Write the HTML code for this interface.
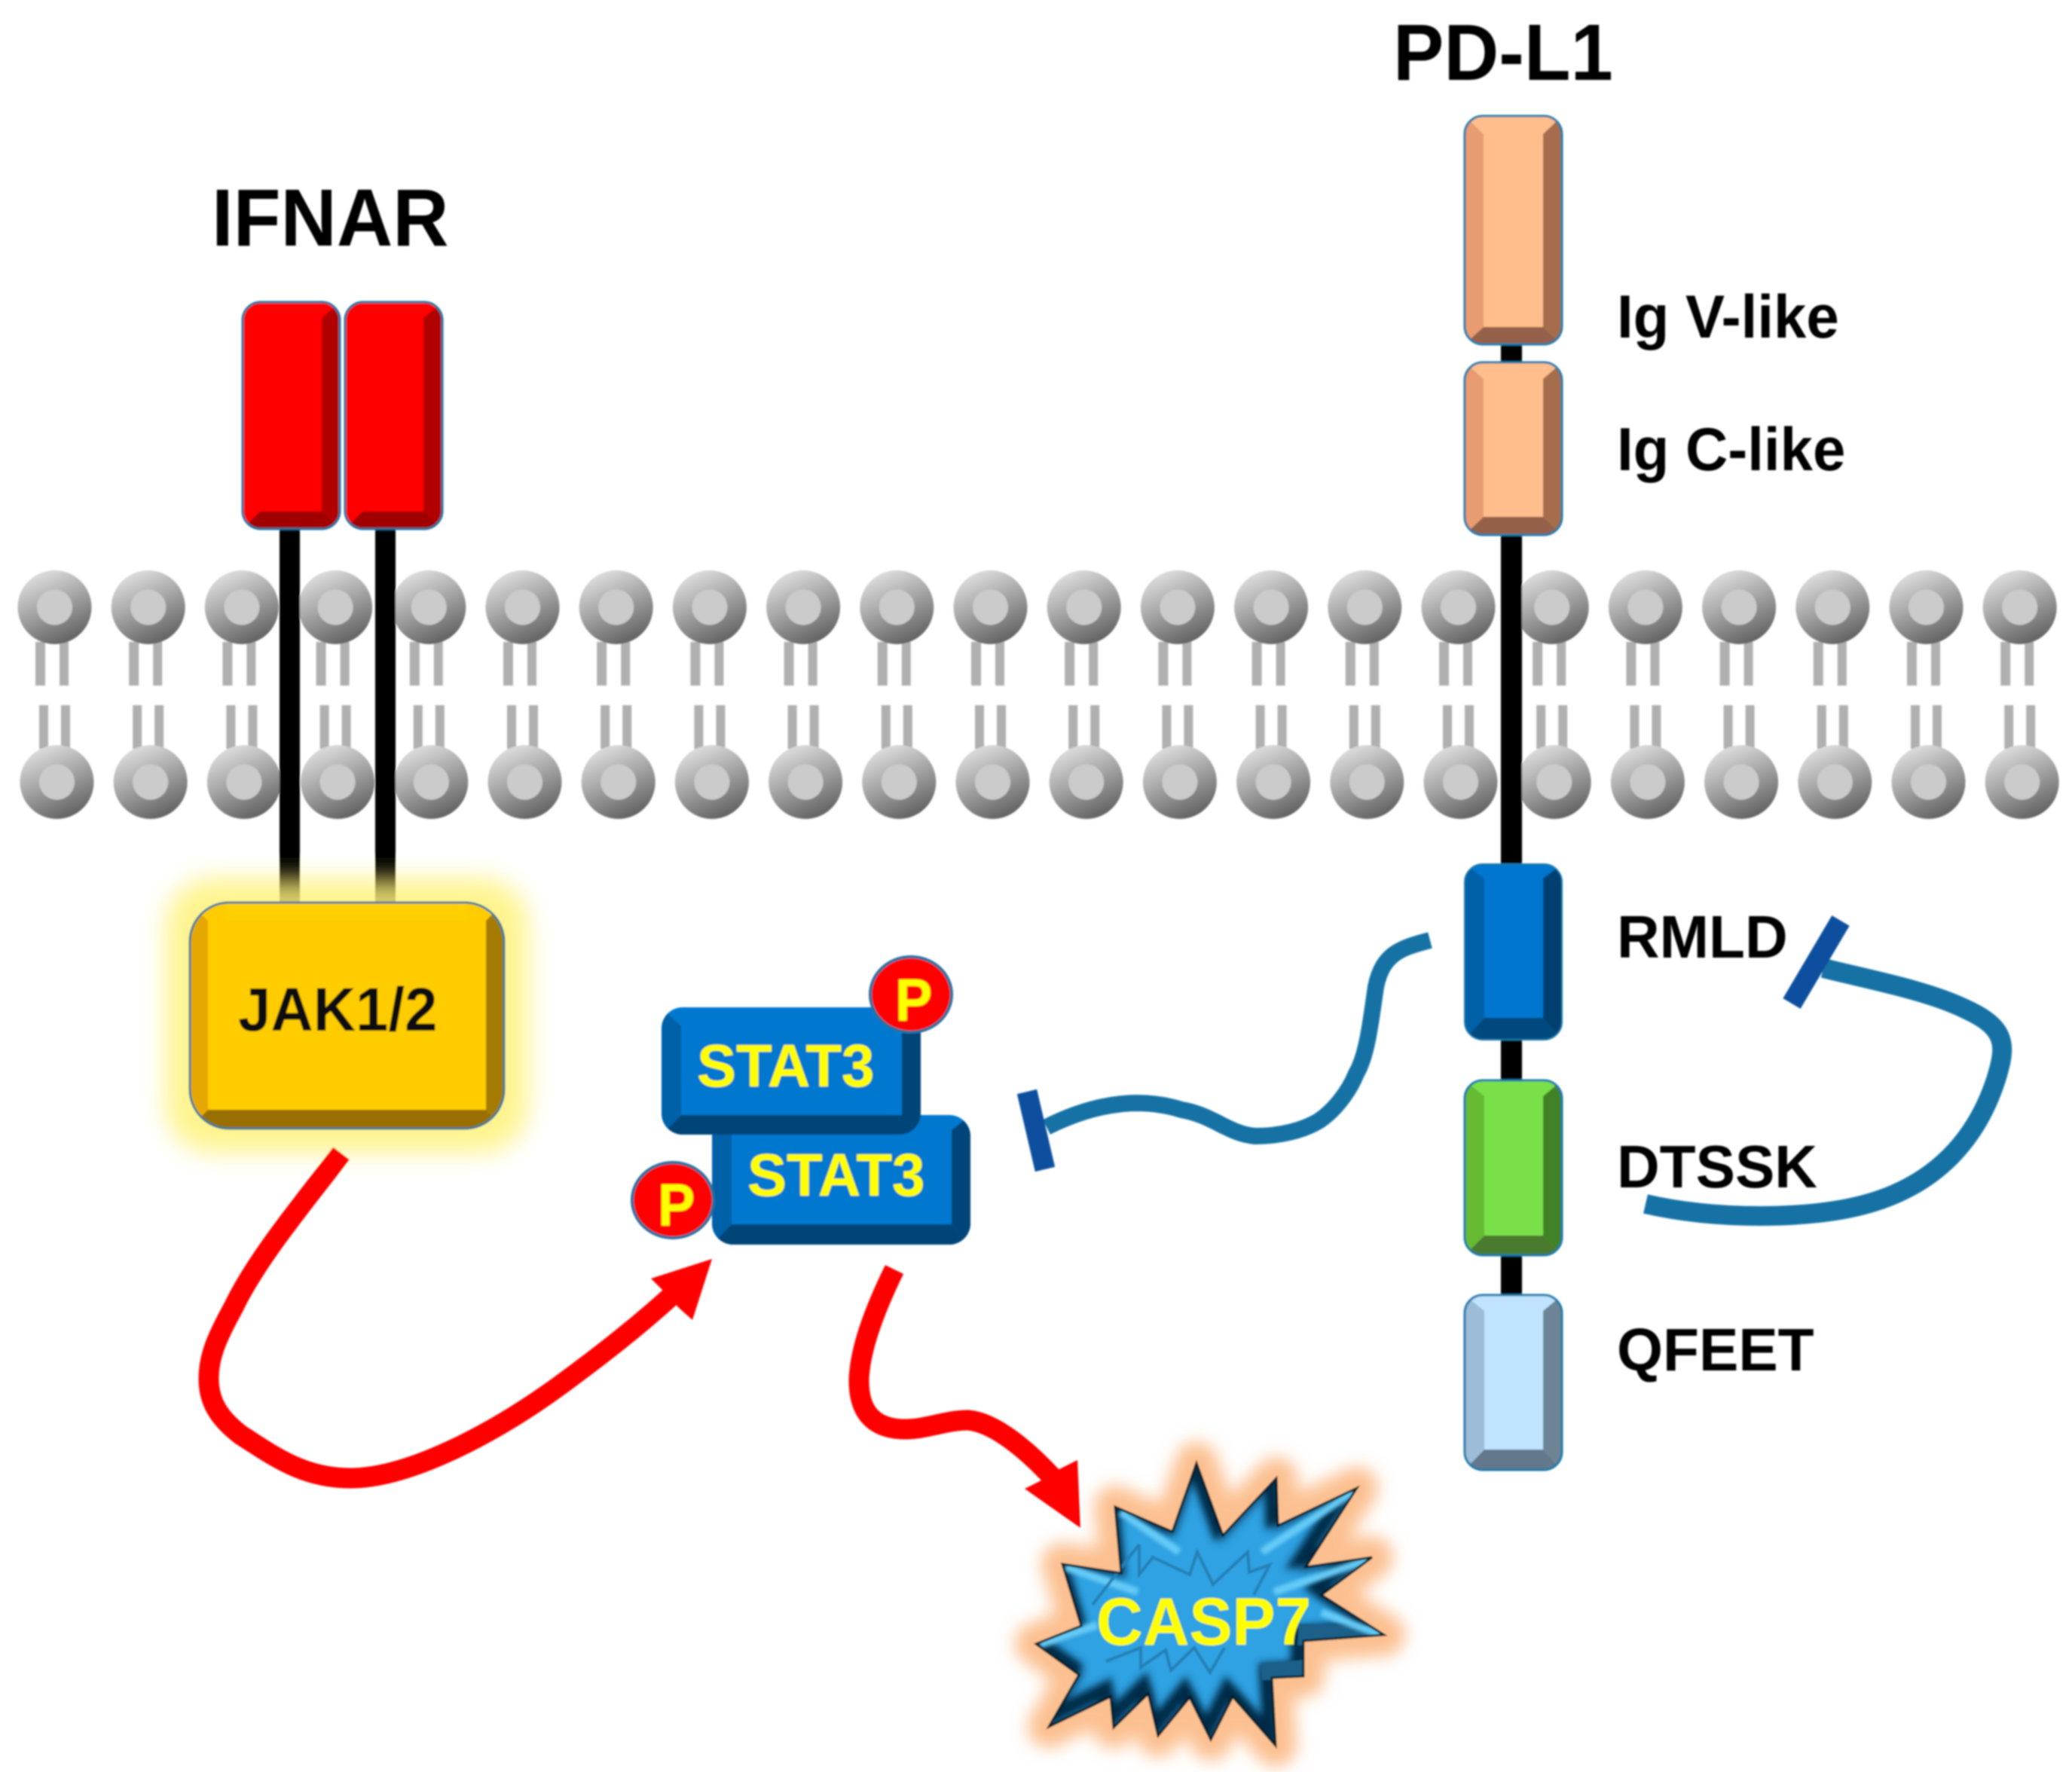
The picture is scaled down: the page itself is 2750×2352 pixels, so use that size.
<!DOCTYPE html>
<html><head><meta charset="utf-8"><style>html,body{margin:0;padding:0;background:#fff}svg{display:block}text{font-family:"Liberation Sans",Arial,sans-serif;font-weight:bold}</style></head><body>
<svg xmlns="http://www.w3.org/2000/svg" width="2750" height="2352" viewBox="0 0 2750 2352">
<defs>
<linearGradient id="hg" x1="0.25" y1="0" x2="0.7" y2="1"><stop offset="0" stop-color="#e2e2e2"/><stop offset="0.45" stop-color="#a8a8a8"/><stop offset="1" stop-color="#5e5e5e"/></linearGradient>
<g id="lt"><rect x="-25.5" y="46" width="13" height="58" fill="#b0b0b0"/><rect x="6.5" y="46" width="12" height="58" fill="#b0b0b0"/><circle r="49" fill="url(#hg)"/><circle r="23.5" fill="#cbcbcb"/></g>
<g id="lb"><rect x="-23.5" y="-102" width="12" height="58" fill="#b0b0b0"/><rect x="5.5" y="-102" width="12" height="58" fill="#b0b0b0"/><circle r="49" fill="url(#hg)"/><circle r="23.5" fill="#cbcbcb"/></g>
<filter id="soft" filterUnits="userSpaceOnUse" x="0" y="0" width="2750" height="2352"><feGaussianBlur stdDeviation="1"/></filter>
<filter id="b12" x="-30%" y="-30%" width="160%" height="160%"><feGaussianBlur stdDeviation="16"/></filter>
<filter id="b9" x="-30%" y="-30%" width="160%" height="160%"><feGaussianBlur stdDeviation="11"/></filter>
<filter id="b4" x="-30%" y="-30%" width="160%" height="160%"><feGaussianBlur stdDeviation="5"/></filter>
<filter id="b2" filterUnits="userSpaceOnUse" x="1300" y="1900" width="600" height="452"><feGaussianBlur stdDeviation="2.5"/></filter>
<clipPath id="cr1"><rect x="322" y="401" width="129" height="301" rx="24"/></clipPath>
<clipPath id="cr2"><rect x="458" y="401" width="129" height="301" rx="24"/></clipPath>
<clipPath id="cv"><rect x="1944" y="154" width="129" height="303" rx="24"/></clipPath>
<clipPath id="cc"><rect x="1944" y="481" width="129" height="229" rx="24"/></clipPath>
<clipPath id="cb"><rect x="1944" y="1147" width="129" height="233" rx="24"/></clipPath>
<clipPath id="cg"><rect x="1944" y="1434" width="129" height="232" rx="24"/></clipPath>
<clipPath id="cq"><rect x="1944" y="1719" width="129" height="232" rx="24"/></clipPath>
<clipPath id="cj"><rect x="252" y="1198" width="417" height="300" rx="52"/></clipPath>
<clipPath id="cs1"><rect x="878" y="1337" width="344" height="169" rx="28"/></clipPath>
<clipPath id="cs2"><rect x="945" y="1480" width="343" height="172" rx="28"/></clipPath>
<clipPath id="cstar"><polygon points="1588,1942 1623,2038 1694,1962 1696,2025 1801,1975 1733,2080 1821,2067 1754,2117 1837,2170 1730,2178 1730,2225 1688,2227 1693,2317 1636,2252 1607,2309 1579,2253 1537,2304 1524,2248 1478,2293 1474,2252 1392,2292 1432,2223 1375,2182 1435,2158 1410,2076 1488,2088 1480,2000 1556,2033"/></clipPath>
<polygon id="star" points="1588,1942 1623,2038 1694,1962 1696,2025 1801,1975 1733,2080 1821,2067 1754,2117 1837,2170 1730,2178 1730,2225 1688,2227 1693,2317 1636,2252 1607,2309 1579,2253 1537,2304 1524,2248 1478,2293 1474,2252 1392,2292 1432,2223 1375,2182 1435,2158 1410,2076 1488,2088 1480,2000 1556,2033"/>
</defs>
<rect width="2750" height="2352" fill="#fff"/>
<g filter="url(#soft)">
<!-- lipids -->
<g>
<use href="#lt" x="72.5" y="806"/><use href="#lt" x="196.7" y="806"/><use href="#lt" x="320.9" y="806"/><use href="#lt" x="445.1" y="806"/><use href="#lt" x="569.3" y="806"/><use href="#lt" x="693.5" y="806"/><use href="#lt" x="817.7" y="806"/><use href="#lt" x="941.9" y="806"/><use href="#lt" x="1066.1" y="806"/><use href="#lt" x="1190.3" y="806"/><use href="#lt" x="1314.5" y="806"/><use href="#lt" x="1438.7" y="806"/><use href="#lt" x="1562.9" y="806"/><use href="#lt" x="1687.1" y="806"/><use href="#lt" x="1811.3" y="806"/><use href="#lt" x="1935.5" y="806"/><use href="#lt" x="2059.7" y="806"/><use href="#lt" x="2183.9" y="806"/><use href="#lt" x="2308.1" y="806"/><use href="#lt" x="2432.3" y="806"/><use href="#lt" x="2556.5" y="806"/><use href="#lt" x="2680.7" y="806"/>
<use href="#lb" x="75.5" y="1038"/><use href="#lb" x="199.7" y="1038"/><use href="#lb" x="323.9" y="1038"/><use href="#lb" x="448.1" y="1038"/><use href="#lb" x="572.3" y="1038"/><use href="#lb" x="696.5" y="1038"/><use href="#lb" x="820.7" y="1038"/><use href="#lb" x="944.9" y="1038"/><use href="#lb" x="1069.1" y="1038"/><use href="#lb" x="1193.3" y="1038"/><use href="#lb" x="1317.5" y="1038"/><use href="#lb" x="1441.7" y="1038"/><use href="#lb" x="1565.9" y="1038"/><use href="#lb" x="1690.1" y="1038"/><use href="#lb" x="1814.3" y="1038"/><use href="#lb" x="1938.5" y="1038"/><use href="#lb" x="2062.7" y="1038"/><use href="#lb" x="2186.9" y="1038"/><use href="#lb" x="2311.1" y="1038"/><use href="#lb" x="2435.3" y="1038"/><use href="#lb" x="2559.5" y="1038"/><use href="#lb" x="2683.7" y="1038"/>
</g>

<!-- stalks -->
<rect x="371" y="690" width="27" height="520" fill="#000"/>
<rect x="498" y="690" width="27" height="520" fill="#000"/>
<rect x="1992" y="440" width="28" height="1300" fill="#000"/>

<!-- IFNAR -->
<g clip-path="url(#cr1)"><rect x="322" y="401" width="129" height="301" fill="#f00"/><polygon points="451,401 427,422 427,679 451,702" fill="#b20000"/><polygon points="322,702 345,679 427,679 451,702" fill="#a00000"/></g>
<rect x="322" y="401" width="129" height="301" rx="24" fill="none" stroke="#1f6f9c" stroke-width="3"/>
<g clip-path="url(#cr2)"><rect x="458" y="401" width="129" height="301" fill="#f00"/><polygon points="587,401 562,422 562,679 587,702" fill="#b20000"/><polygon points="458,702 481,679 562,679 587,702" fill="#a00000"/></g>
<rect x="458" y="401" width="129" height="301" rx="24" fill="none" stroke="#1f6f9c" stroke-width="3"/>

<!-- JAK -->
<rect x="220" y="1166" width="481" height="364" rx="62" fill="#fff27a" opacity="0.85" filter="url(#b12)"/>
<g clip-path="url(#cj)"><rect x="252" y="1198" width="417" height="300" fill="#ffcc00"/><polygon points="252,1198 276,1222 276,1473 252,1498" fill="#e5a800"/><polygon points="669,1198 645,1222 645,1473 669,1498" fill="#a67c00"/><polygon points="252,1498 276,1473 645,1473 669,1498" fill="#997000"/><rect x="276" y="1198" width="369" height="275" rx="26" fill="#ffcc00"/><rect x="300" y="1198" width="320" height="24" fill="#ffd000"/></g>
<rect x="252" y="1198" width="417" height="300" rx="52" fill="none" stroke="#2a7a9e" stroke-width="3"/>
<text transform="translate(316,1368) scale(1,1.05)" font-size="78" fill="#0a0a0a">JAK1/2</text>

<!-- PD-L1 domains -->
<g clip-path="url(#cv)"><rect x="1944" y="154" width="129" height="303" fill="#ffbe8c"/><polygon points="1944,154 1969,178 1969,434 1944,457" fill="#e89c70"/><polygon points="2073,154 2048,178 2048,434 2073,457" fill="#a56d4c"/><polygon points="1944,457 1969,434 2048,434 2073,457" fill="#94614a"/></g>
<rect x="1944" y="154" width="129" height="303" rx="24" fill="none" stroke="#1f79a8" stroke-width="3"/>
<g clip-path="url(#cc)"><rect x="1944" y="481" width="129" height="229" fill="#ffbe8c"/><polygon points="1944,481 1969,503 1969,686 1944,710" fill="#e89c70"/><polygon points="2073,481 2048,503 2048,686 2073,710" fill="#a56d4c"/><polygon points="1944,710 1969,686 2048,686 2073,710" fill="#94614a"/></g>
<rect x="1944" y="481" width="129" height="229" rx="24" fill="none" stroke="#1f79a8" stroke-width="3"/>
<g clip-path="url(#cb)"><rect x="1944" y="1147" width="129" height="233" fill="#0076cf"/><polygon points="1944,1147 1970,1166 1970,1351 1944,1380" fill="#0060a8"/><polygon points="2073,1147 2048,1166 2048,1351 2073,1380" fill="#004070"/><polygon points="1944,1380 1970,1351 2048,1351 2073,1380" fill="#00487f"/></g>
<rect x="1944" y="1147" width="129" height="233" rx="24" fill="none" stroke="#1f79a8" stroke-width="2"/>
<g clip-path="url(#cg)"><rect x="1944" y="1434" width="129" height="232" fill="#7ae04a"/><polygon points="1944,1434 1970,1455 1970,1640 1944,1666" fill="#66bb33"/><polygon points="2073,1434 2048,1455 2048,1640 2073,1666" fill="#428225"/><polygon points="1944,1666 1970,1640 2048,1640 2073,1666" fill="#4a7a2e"/></g>
<rect x="1944" y="1434" width="129" height="232" rx="24" fill="none" stroke="#1f79a8" stroke-width="3"/>
<g clip-path="url(#cq)"><rect x="1944" y="1719" width="129" height="232" fill="#c0e4ff"/><polygon points="1944,1719 1970,1740 1970,1924 1944,1951" fill="#9cbcd8"/><polygon points="2073,1719 2048,1740 2048,1924 2073,1951" fill="#6c8494"/><polygon points="1944,1951 1970,1924 2048,1924 2073,1951" fill="#64788c"/></g>
<rect x="1944" y="1719" width="129" height="232" rx="24" fill="none" stroke="#1f79a8" stroke-width="3"/>

<!-- labels -->
<text transform="translate(281,326) scale(1,1.05)" font-size="103" fill="#000">IFNAR</text>
<text transform="translate(1849,106) scale(1,1.05)" font-size="101" fill="#000">PD-L1</text>
<text transform="translate(2146,448) scale(1,1.04)" font-size="78" fill="#000">Ig V-like</text>
<text transform="translate(2146,624) scale(1,1.04)" font-size="78" fill="#000">Ig C-like</text>
<text transform="translate(2146,1271) scale(1,1.02)" font-size="78.5" fill="#000">RMLD</text>
<text transform="translate(2146,1576) scale(1,1.02)" font-size="78.5" fill="#000">DTSSK</text>
<text transform="translate(2146,1819) scale(1,1.02)" font-size="78.5" fill="#000">QFEET</text>

<!-- STAT3 lower -->
<g clip-path="url(#cs2)"><rect x="945" y="1480" width="343" height="172" fill="#0078d0"/><polygon points="945,1480 971,1500 971,1625 945,1652" fill="#0060a8"/><polygon points="1288,1480 1263,1500 1263,1625 1288,1652" fill="#004578"/><polygon points="945,1652 971,1625 1263,1625 1288,1652" fill="#004478"/></g>
<text transform="translate(992,1587) scale(1,1.02)" font-size="78" fill="#ff0">STAT3</text>
<!-- STAT3 upper -->
<g clip-path="url(#cs1)"><rect x="878" y="1337" width="344" height="169" fill="#0078d0"/><polygon points="878,1337 904,1362 904,1480 878,1506" fill="#0060a8"/><polygon points="1222,1337 1197,1362 1197,1480 1222,1506" fill="#004578"/><polygon points="878,1506 904,1480 1197,1480 1222,1506" fill="#004478"/></g>
<text transform="translate(925,1442) scale(1,1.02)" font-size="78" fill="#ff0">STAT3</text>
<ellipse cx="1209" cy="1320" rx="54" ry="50" fill="#f00" stroke="#2a6f9e" stroke-width="4"/>
<text transform="translate(1188,1355) scale(1,1.08)" font-size="74" fill="#ff0">P</text>
<ellipse cx="893" cy="1593" rx="54" ry="50" fill="#f00" stroke="#2a6f9e" stroke-width="4"/>
<text transform="translate(873,1627) scale(1,1.08)" font-size="74" fill="#ff0">P</text>

<!-- red arrows -->
<path d="M453 1531 C400 1600 340 1672 310 1735 C288 1775 277 1800 277 1830 C277 1860 290 1882 320 1905 C360 1930 400 1962 465 1962 C545 1962 660 1900 747 1836 C800 1797 850 1758 900 1712" fill="none" stroke="#f00" stroke-width="27"/>
<polygon points="945,1671 864,1697 884,1717 901,1736 919,1752" fill="#f00"/>
<path d="M1187 1685 C1165 1730 1142 1785 1140 1830 C1139 1880 1165 1897 1202 1897 C1230 1897 1255 1885 1285 1885 C1320 1888 1365 1925 1405 1970" fill="none" stroke="#f00" stroke-width="27"/>
<polygon points="1430,1938 1434,2028 1360,1976 1380,1966 1406,1950" fill="#f00"/>

<!-- inhibition -->
<path d="M1898 1248 C1860 1258 1835 1265 1826 1310 C1820 1350 1815 1400 1800 1425 C1790 1450 1770 1475 1750 1488 C1730 1500 1700 1508 1666 1508 C1630 1505 1610 1480 1568 1473 C1520 1458 1460 1460 1389 1496" fill="none" stroke="#1472a5" stroke-width="22"/>
<line x1="1363" y1="1449" x2="1387" y2="1552" stroke="#0a509e" stroke-width="27"/>
<path d="M2184 1598 C2280 1620 2400 1618 2470 1600 C2570 1575 2625 1510 2650 1430 C2662 1390 2665 1365 2610 1340 C2560 1315 2480 1300 2420 1285" fill="none" stroke="#1472a5" stroke-width="26"/>
<line x1="2443" y1="1222" x2="2378" y2="1332" stroke="#0a509e" stroke-width="27"/>

<!-- CASP7 -->
<use href="#star" fill="#fcc090" stroke="#fcc090" stroke-width="56" stroke-linejoin="round" filter="url(#b9)"/>
<use href="#star" fill="#2ea2e2"/>
<g clip-path="url(#cstar)">
<use href="#star" fill="none" stroke="#1b6d9f" stroke-width="12" filter="url(#b4)"/>
<use href="#star" transform="translate(-7,-10)" fill="none" stroke="#042c46" stroke-width="20" filter="url(#b4)"/>
<polygon points="1673,2208 1730,2203 1730,2230 1675,2230" fill="#1a5f88"/>
<polygon points="1724,2155 1840,2160 1840,2180 1722,2184" fill="#1a5f88"/>
<g stroke="#66ccf8" stroke-width="10" fill="none" filter="url(#b2)">
<line x1="1487" y1="2007" x2="1565" y2="2060"/><line x1="1414" y1="2080" x2="1510" y2="2113"/><line x1="1796" y1="1980" x2="1675" y2="2060"/><line x1="1817" y1="2070" x2="1691" y2="2113"/><line x1="1754" y1="2140" x2="1832" y2="2170"/><line x1="1380" y1="2183" x2="1456" y2="2157"/>
</g>
<g fill="none" stroke="#2580b5" stroke-width="4">
<polyline points="1512,2050 1512,2090 1530,2067 1579,2090 1589,2060 1610,2103 1656,2060 1658,2087 1685,2077 1664,2117"/>
<polyline points="1468,2205 1514,2187 1514,2213 1547,2190 1554,2217 1585,2187 1606,2220 1625,2187"/>
<polyline points="1450,2130 1512,2050"/>
</g>
</g>
<use href="#star" fill="none" stroke="#061a28" stroke-width="3"/>
<text transform="translate(1455,2183) scale(1,1.04)" font-size="85.5" fill="#ff0">CASP7</text>
</g>
</svg>
</body></html>
